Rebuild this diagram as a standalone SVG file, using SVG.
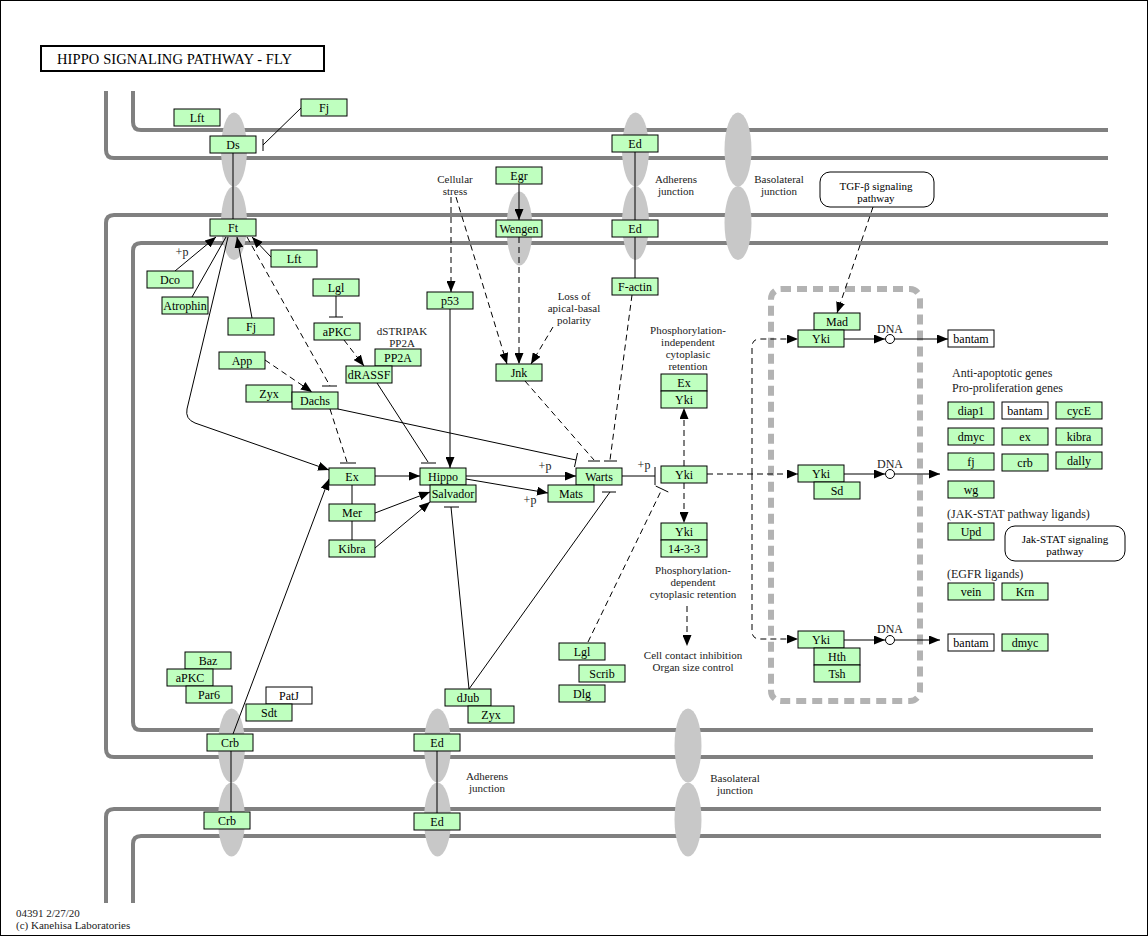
<svg xmlns="http://www.w3.org/2000/svg" width="1148" height="936" viewBox="0 0 1148 936">
<style>
.b{fill:#bfffbf;stroke:#000;stroke-width:1}
.w{fill:#fff;stroke:#000;stroke-width:1}
.t{font-family:"Liberation Serif",serif;font-size:12px;fill:#000;text-anchor:middle}
.l{font-family:"Liberation Serif",serif;font-size:12px;fill:#222;text-anchor:middle}
.l2{font-family:"Liberation Serif",serif;font-size:11px;fill:#222;text-anchor:middle}
.t2{font-family:"Liberation Serif",serif;font-size:11px;fill:#000;text-anchor:middle}
.ls{font-family:"Liberation Serif",serif;font-size:12px;fill:#222;text-anchor:start}
.ls2{font-family:"Liberation Serif",serif;font-size:11px;fill:#222;text-anchor:start}
.m{fill:none;stroke:#808080;stroke-width:4}
.j{fill:#c8c8c8}
.s{fill:none;stroke:#000;stroke-width:1}
.d{fill:none;stroke:#000;stroke-width:1;stroke-dasharray:6,4}
.a{marker-end:url(#arr)}
</style>
<defs>
<marker id="arr" markerUnits="userSpaceOnUse" markerWidth="11" markerHeight="9" refX="11" refY="4.5" orient="auto">
<path d="M0,0 L11,4.5 L0,9 z" fill="#000"/>
</marker>
</defs>
<rect x="0" y="0" width="1148" height="936" fill="#fff"/>
<rect x="0.5" y="0.5" width="1147" height="935" fill="none" stroke="#000" stroke-width="1"/>

<g id="title">
<rect x="41" y="46" width="283" height="25" fill="#fff" stroke="#000" stroke-width="2"/>
<text x="57" y="64" font-family="Liberation Serif, serif" font-size="14.5" textLength="235" lengthAdjust="spacing">HIPPO  SIGNALING  PATHWAY  -  FLY</text>
</g>

<g id="membranes">
<path class="m" d="M106,91 V150 Q106,158 114,158 H1108"/>
<path class="m" d="M133,91 V122 Q133,130 141,130 H1108"/>
<path class="m" d="M1108,215 H114 Q106,215 106,223 V749 Q106,757 114,757 H1093"/>
<path class="m" d="M1108,243 H141 Q133,243 133,251 V722 Q133,730 141,730 H1093"/>
<path class="m" d="M1101,809 H114 Q106,809 106,817 V903"/>
<path class="m" d="M1101,836 H141 Q133,836 133,844 V903"/>
</g>

<g id="junctions">
<ellipse class="j" cx="234" cy="149.5" rx="13" ry="37"/>
<ellipse class="j" cx="234" cy="223" rx="13" ry="37"/>
<ellipse class="j" cx="635.5" cy="149.5" rx="13.5" ry="37"/>
<ellipse class="j" cx="635.5" cy="223" rx="13.5" ry="37"/>
<ellipse class="j" cx="738" cy="149.5" rx="13.5" ry="37"/>
<ellipse class="j" cx="738" cy="223" rx="13.5" ry="37"/>
<ellipse class="j" cx="519.5" cy="228.5" rx="13" ry="37"/>
<ellipse class="j" cx="231.5" cy="745.5" rx="13.5" ry="37"/>
<ellipse class="j" cx="231.5" cy="819.5" rx="13.5" ry="37"/>
<ellipse class="j" cx="437.5" cy="745.5" rx="13.5" ry="37"/>
<ellipse class="j" cx="437.5" cy="819.5" rx="13.5" ry="37"/>
<ellipse class="j" cx="688" cy="745.5" rx="13.5" ry="37"/>
<ellipse class="j" cx="688" cy="819.5" rx="13.5" ry="37"/>
</g>

<g id="nucleus">
<rect x="771" y="289" width="149" height="412" rx="10" fill="none" stroke="#b3b3b3" stroke-width="6" stroke-dasharray="10,6"/>
</g>

<g id="connectors">
<path class="s" d="M233,153 V219"/>
<path class="s" d="M301,108 L263,145 M263,139 V151"/>
<path class="s a" d="M175,271 L216,237"/>
<path class="s" d="M192,297 L226,237"/>
<path class="s a" d="M252,318 L237,237"/>
<path class="s a" d="M271,257 L252,237"/>
<path class="d" d="M247,237 L330,386"/>
<path class="s" d="M322,386 H337"/>
<path class="s a" d="M228,237 L187,409 Q185,419 195,423 L329,470"/>
<path class="d a" d="M265,360 L312,392"/>
<path class="s" d="M336,296 V317 M329,317 H343"/>
<path class="d a" d="M344,340 L364,366"/>
<path class="s" d="M377,383 L428,462 M421,463 H436"/>
<path class="d" d="M330,409 L347,462"/>
<path class="s" d="M340,463 H356"/>
<path class="s" d="M338,409 L576,460 M577.5,453 L574.5,467"/>
<path class="s a" d="M375,476 L420,476"/>
<path class="s" d="M352,485 V504 M352,521 V540"/>
<path class="s a" d="M375,513 L430,492"/>
<path class="s a" d="M375,548 L430,502"/>
<path class="s a" d="M233,734 L329,479"/>
<path class="s a" d="M450,309 V468"/>
<path class="d a" d="M451,197 V292"/>
<path class="d a" d="M456,197 L507,364"/>
<path class="s a" d="M519,184 V220"/>
<path class="d a" d="M519,237 V364"/>
<path class="d a" d="M553,327 L531,364"/>
<path class="s" d="M635,152 V220 M635,237 V278"/>
<path class="d" d="M632,295 L610,460"/>
<path class="s" d="M604,461 H617"/>
<path class="d" d="M525,381 L594,460"/>
<path class="s" d="M588,461 H600"/>
<path class="s a" d="M466,476 L576,476"/>
<path class="s a" d="M466,479 L548,493"/>
<path class="s" d="M622,476 L655,476 M655,467 V485"/>
<path class="d" d="M588,642 L662,489"/>
<path class="s" d="M655.7,486 L668.3,492"/>
<path class="s" d="M469,689 L610,492 M602,492 H616"/>
<path class="s" d="M469,689 L451,507 M444,507 H459"/>
<path class="d a" d="M684,466 V408"/>
<path class="d a" d="M684,483 V523"/>
<path class="d a" d="M687,606 V646"/>
<path class="d a" d="M707,474 H798"/>
<path class="d a" d="M752,474 V347 Q752,339 760,339 H798"/>
<path class="d a" d="M752,474 V631 Q752,639 760,639 H798"/>
<path class="d a" d="M873,207 L837,313"/>
<path class="s a" d="M844,339 H885"/>
<path class="s a" d="M895,339 H948"/>
<path class="s a" d="M844,474 H885"/>
<path class="s a" d="M895,474 H940"/>
<path class="s a" d="M844,640 H885"/>
<path class="s a" d="M895,640 H940"/>
<path class="s" d="M231,751 V812 M437,751 V813"/>
<circle cx="890" cy="339" r="4.5" fill="#fff" stroke="#000"/>
<circle cx="890" cy="474" r="4.5" fill="#fff" stroke="#000"/>
<circle cx="890" cy="640" r="4.5" fill="#fff" stroke="#000"/>
</g>

<g id="labels">
<text class="l2" x="455" y="183">Cellular</text>
<text class="l2" x="455" y="195">stress</text>
<text class="l2" x="574" y="300">Loss of</text>
<text class="l2" x="574" y="312">apical-basal</text>
<text class="l2" x="574" y="324">polarity</text>
<text class="l2" x="402" y="335">dSTRIPAK</text>
<text class="l2" x="402" y="347">PP2A</text>
<text class="l2" x="676" y="183">Adherens</text>
<text class="l2" x="676" y="195">junction</text>
<text class="l2" x="779" y="183">Basolateral</text>
<text class="l2" x="779" y="195">junction</text>
<text class="l2" x="487" y="780">Adherens</text>
<text class="l2" x="487" y="792">junction</text>
<text class="l2" x="735" y="782">Basolateral</text>
<text class="l2" x="735" y="794">junction</text>
<text class="l" x="182" y="256">+p</text>
<text class="l" x="545" y="470">+p</text>
<text class="l" x="530" y="504">+p</text>
<text class="l" x="644" y="469">+p</text>
<text class="l2" x="688" y="334">Phosphorylation-</text>
<text class="l2" x="688" y="346">independent</text>
<text class="l2" x="688" y="358">cytoplasic</text>
<text class="l2" x="688" y="370">retention</text>
<text class="l2" x="693" y="574">Phosphorylation-</text>
<text class="l2" x="693" y="586">dependent</text>
<text class="l2" x="693" y="598">cytoplasic retention</text>
<text class="l2" x="693" y="659">Cell contact inhibition</text>
<text class="l2" x="693" y="671">Organ size control</text>
<text class="l" x="890" y="333">DNA</text>
<text class="l" x="890" y="468">DNA</text>
<text class="l" x="890" y="633">DNA</text>
<text class="ls" x="952" y="377">Anti-apoptotic genes</text>
<text class="ls" x="952" y="392">Pro-proliferation genes</text>
<text class="ls" x="947" y="518">(JAK-STAT pathway ligands)</text>
<text class="ls" x="947" y="578">(EGFR ligands)</text>
<text class="ls2" x="16" y="917">04391 2/27/20</text>
<text class="ls2" x="16" y="929">(c) Kanehisa Laboratories</text>
</g>

<g id="tgfb"><rect x="820" y="172" width="114" height="35" rx="10" fill="#fff" stroke="#000"/><text class="t2" x="876" y="190">TGF-β signaling</text><text class="t2" x="876" y="202">pathway</text></g>
<g id="jakstat"><rect x="1005" y="526" width="120" height="35" rx="10" fill="#fff" stroke="#000"/><text class="t2" x="1065" y="543">Jak-STAT signaling</text><text class="t2" x="1065" y="555">pathway</text></g>

<g id="n_lft1"><rect class="b" x="174" y="109" width="46" height="17"/><text class="t" x="197" y="122">Lft</text></g>
<g id="n_fj1"><rect class="b" x="301" y="99" width="46" height="17"/><text class="t" x="324" y="112">Fj</text></g>
<g id="n_ds"><rect class="b" x="210" y="136" width="46" height="17"/><text class="t" x="233" y="149">Ds</text></g>
<g id="n_ft"><rect class="b" x="210" y="219" width="46" height="17"/><text class="t" x="233" y="232">Ft</text></g>
<g id="n_lft2"><rect class="b" x="271" y="250" width="46" height="17"/><text class="t" x="294" y="263">Lft</text></g>
<g id="n_dco"><rect class="b" x="147" y="271" width="46" height="17"/><text class="t" x="170" y="284">Dco</text></g>
<g id="n_atrophin"><rect class="b" x="162" y="297" width="46" height="17"/><text class="t" x="185" y="310">Atrophin</text></g>
<g id="n_fj2"><rect class="b" x="228" y="318" width="46" height="17"/><text class="t" x="251" y="331">Fj</text></g>
<g id="n_lgl1"><rect class="b" x="313" y="279" width="46" height="17"/><text class="t" x="336" y="292">Lgl</text></g>
<g id="n_apkc1"><rect class="b" x="314" y="323" width="46" height="17"/><text class="t" x="337" y="336">aPKC</text></g>
<g id="n_pp2a"><rect class="b" x="375" y="349" width="46" height="17"/><text class="t" x="398" y="362">PP2A</text></g>
<g id="n_drassf"><rect class="b" x="346" y="366" width="46" height="17"/><text class="t" x="369" y="379">dRASSF</text></g>
<g id="n_app"><rect class="b" x="219" y="352" width="46" height="17"/><text class="t" x="242" y="365">App</text></g>
<g id="n_zyx1"><rect class="b" x="246" y="385" width="46" height="17"/><text class="t" x="269" y="398">Zyx</text></g>
<g id="n_dachs"><rect class="b" x="292" y="392" width="46" height="17"/><text class="t" x="315" y="405">Dachs</text></g>
<g id="n_ex"><rect class="b" x="329" y="468" width="46" height="17"/><text class="t" x="352" y="481">Ex</text></g>
<g id="n_mer"><rect class="b" x="329" y="504" width="46" height="17"/><text class="t" x="352" y="517">Mer</text></g>
<g id="n_kibra"><rect class="b" x="329" y="540" width="46" height="17"/><text class="t" x="352" y="553">Kibra</text></g>
<g id="n_hippo"><rect class="b" x="420" y="468" width="46" height="17"/><text class="t" x="443" y="481">Hippo</text></g>
<g id="n_salvador"><rect class="b" x="430" y="485" width="46" height="17"/><text class="t" x="453" y="498">Salvador</text></g>
<g id="n_p53"><rect class="b" x="427" y="292" width="46" height="17"/><text class="t" x="450" y="305">p53</text></g>
<g id="n_egr"><rect class="b" x="496" y="167" width="46" height="17"/><text class="t" x="519" y="180">Egr</text></g>
<g id="n_wengen"><rect class="b" x="496" y="220" width="46" height="17"/><text class="t" x="519" y="233">Wengen</text></g>
<g id="n_jnk"><rect class="b" x="496" y="364" width="46" height="17"/><text class="t" x="519" y="377">Jnk</text></g>
<g id="n_ed1"><rect class="b" x="612" y="135" width="46" height="17"/><text class="t" x="635" y="148">Ed</text></g>
<g id="n_ed2"><rect class="b" x="612" y="220" width="46" height="17"/><text class="t" x="635" y="233">Ed</text></g>
<g id="n_factin"><rect class="b" x="612" y="278" width="46" height="17"/><text class="t" x="635" y="291">F-actin</text></g>
<g id="n_warts"><rect class="b" x="576" y="468" width="46" height="17"/><text class="t" x="599" y="481">Warts</text></g>
<g id="n_mats"><rect class="b" x="548" y="485" width="46" height="17"/><text class="t" x="571" y="498">Mats</text></g>
<g id="n_yki"><rect class="b" x="661" y="466" width="46" height="17"/><text class="t" x="684" y="479">Yki</text></g>
<g id="n_exyki"><rect class="b" x="661" y="374" width="46" height="17"/><text class="t" x="684" y="387">Ex</text><rect class="b" x="661" y="391" width="46" height="17"/><text class="t" x="684" y="404">Yki</text></g>
<g id="n_yki1433"><rect class="b" x="661" y="523" width="46" height="17"/><text class="t" x="684" y="536">Yki</text><rect class="b" x="661" y="540" width="46" height="17"/><text class="t" x="684" y="553">14-3-3</text></g>
<g id="n_lgl2"><rect class="b" x="559" y="643" width="46" height="17"/><text class="t" x="582" y="656">Lgl</text></g>
<g id="n_scrib"><rect class="b" x="579" y="665" width="46" height="17"/><text class="t" x="602" y="678">Scrib</text></g>
<g id="n_dlg"><rect class="b" x="559" y="685" width="46" height="17"/><text class="t" x="582" y="698">Dlg</text></g>
<g id="n_djub"><rect class="b" x="445" y="689" width="46" height="17"/><text class="t" x="468" y="702">dJub</text></g>
<g id="n_zyx2"><rect class="b" x="468" y="706" width="46" height="17"/><text class="t" x="491" y="719">Zyx</text></g>
<g id="n_baz"><rect class="b" x="185" y="652" width="46" height="17"/><text class="t" x="208" y="665">Baz</text></g>
<g id="n_apkc2"><rect class="b" x="167" y="669" width="46" height="17"/><text class="t" x="190" y="682">aPKC</text></g>
<g id="n_par6"><rect class="b" x="186" y="686" width="46" height="17"/><text class="t" x="209" y="699">Par6</text></g>
<g id="n_patj"><rect class="w" x="266" y="687" width="46" height="17"/><text class="t" x="289" y="700">PatJ</text></g>
<g id="n_sdt"><rect class="b" x="246" y="704" width="46" height="17"/><text class="t" x="269" y="717">Sdt</text></g>
<g id="n_crb1"><rect class="b" x="207" y="734" width="46" height="17"/><text class="t" x="230" y="747">Crb</text></g>
<g id="n_crb2"><rect class="b" x="204" y="812" width="46" height="17"/><text class="t" x="227" y="825">Crb</text></g>
<g id="n_ed3"><rect class="b" x="414" y="734" width="46" height="17"/><text class="t" x="437" y="747">Ed</text></g>
<g id="n_ed4"><rect class="b" x="414" y="813" width="46" height="17"/><text class="t" x="437" y="826">Ed</text></g>
<g id="n_madyki"><rect class="b" x="814" y="313" width="46" height="17"/><text class="t" x="837" y="326">Mad</text><rect class="b" x="798" y="330" width="46" height="17"/><text class="t" x="821" y="343">Yki</text></g>
<g id="n_ykisd"><rect class="b" x="798" y="465" width="46" height="17"/><text class="t" x="821" y="478">Yki</text><rect class="b" x="814" y="482" width="46" height="17"/><text class="t" x="837" y="495">Sd</text></g>
<g id="n_ykihthtsh"><rect class="b" x="798" y="631" width="46" height="17"/><text class="t" x="821" y="644">Yki</text><rect class="b" x="814" y="648" width="46" height="17"/><text class="t" x="837" y="661">Hth</text><rect class="b" x="814" y="665" width="46" height="17"/><text class="t" x="837" y="678">Tsh</text></g>
<g id="n_bantam1"><rect class="w" x="948" y="330" width="46" height="17"/><text class="t" x="971" y="343">bantam</text></g>
<g id="n_diap1"><rect class="b" x="948" y="402" width="46" height="17"/><text class="t" x="971" y="415">diap1</text></g>
<g id="n_bantam2"><rect class="w" x="1002" y="402" width="46" height="17"/><text class="t" x="1025" y="415">bantam</text></g>
<g id="n_cyce"><rect class="b" x="1056" y="402" width="46" height="17"/><text class="t" x="1079" y="415">cycE</text></g>
<g id="n_dmyc1"><rect class="b" x="948" y="428" width="46" height="17"/><text class="t" x="971" y="441">dmyc</text></g>
<g id="n_exg"><rect class="b" x="1002" y="428" width="46" height="17"/><text class="t" x="1025" y="441">ex</text></g>
<g id="n_kibrag"><rect class="b" x="1056" y="428" width="46" height="17"/><text class="t" x="1079" y="441">kibra</text></g>
<g id="n_fjg"><rect class="b" x="948" y="453" width="46" height="17"/><text class="t" x="971" y="466">fj</text></g>
<g id="n_crbg"><rect class="b" x="1002" y="454" width="46" height="17"/><text class="t" x="1025" y="467">crb</text></g>
<g id="n_dally"><rect class="b" x="1056" y="452" width="46" height="17"/><text class="t" x="1079" y="465">dally</text></g>
<g id="n_wg"><rect class="b" x="948" y="481" width="46" height="17"/><text class="t" x="971" y="494">wg</text></g>
<g id="n_upd"><rect class="b" x="948" y="523" width="46" height="17"/><text class="t" x="971" y="536">Upd</text></g>
<g id="n_vein"><rect class="b" x="948" y="583" width="46" height="17"/><text class="t" x="971" y="596">vein</text></g>
<g id="n_krn"><rect class="b" x="1002" y="583" width="46" height="17"/><text class="t" x="1025" y="596">Krn</text></g>
<g id="n_bantam3"><rect class="w" x="948" y="634" width="46" height="17"/><text class="t" x="971" y="647">bantam</text></g>
<g id="n_dmyc2"><rect class="b" x="1002" y="634" width="46" height="17"/><text class="t" x="1025" y="647">dmyc</text></g>
</svg>
